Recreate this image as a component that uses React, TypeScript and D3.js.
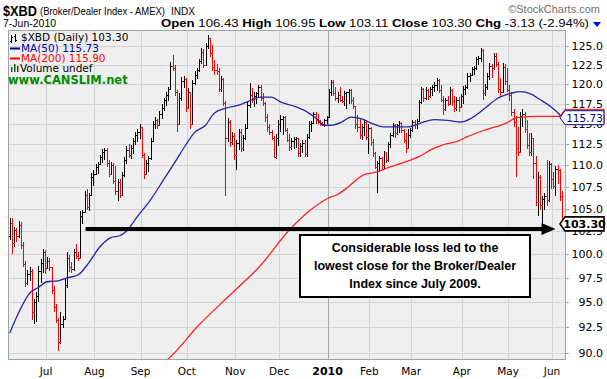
import React from "react";
import * as d3 from "d3";

// ---- Daily OHLC bars, $XBD, 8-Jun-2009 .. 7-Jun-2010 (252 trading days) ----
const opens = [
102.0,103.4,101.2,102.6,102.0,103.2,101.0,99.0,97.0,97.9,98.2,94.0,95.0,95.6,98.2,99.1,100.2,
98.5,99.3,98.6,96.2,94.5,93.2,91.0,92.8,93.3,96.8,99.6,98.6,98.4,100.2,99.8,99.6,104.2,104.6,106.6,105.2,106.5,108.6,
109.0,109.8,110.1,111.0,111.6,111.8,110.2,109.0,110.0,108.2,107.0,108.0,106.6,108.8,110.6,111.8,111.2,112.0,112.9,113.6,114.0,
114.6,111.2,109.0,110.2,110.8,112.9,115.0,115.5,114.8,116.2,117.0,117.9,118.6,119.3,122.3,122.0,119.0,115.0,118.2,120.4,120.6,
117.0,119.0,115.0,120.1,121.2,121.8,123.0,124.2,122.5,125.0,126.0,124.0,122.2,121.8,121.6,119.4,120.6,117.6,113.2,115.2,112.8,113.5,
111.2,112.6,114.0,112.0,113.2,114.5,117.3,118.6,118.0,118.5,118.8,119.6,118.2,117.6,115.8,114.6,114.0,113.3,111.0,113.2,
115.0,115.6,115.8,114.2,113.0,112.2,112.9,113.1,113.2,111.4,112.3,112.7,111.3,113.4,115.0,115.1,116.2,115.4,115.2,114.9,114.8,115.4,
115.8,119.0,120.2,118.8,118.2,118.6,118.0,117.8,118.8,118.9,119.2,118.0,117.2,115.0,114.6,113.6,114.6,115.2,113.4,
114.5,112.8,111.4,109.8,110.2,110.8,110.0,111.4,110.6,112.5,113.6,114.8,113.8,114.8,115.1,114.2,113.0,112.0,113.6,
114.2,115.2,115.0,115.3,117.7,119.3,118.2,119.2,118.5,119.3,119.6,119.8,120.5,119.2,118.0,116.8,117.9,117.5,119.2,117.8,116.9,118.0,117.1,
118.5,119.4,119.6,121.0,121.2,121.9,122.1,123.2,123.4,124.4,118.8,119.6,121.0,122.3,122.0,123.6,122.6,119.4,119.0,122.2,120.4,
119.2,118.6,116.4,115.2,112.0,111.6,116.0,116.2,114.4,112.4,111.6,113.2,110.2,105.8,108.6,105.4,106.1,106.4,106.0,110.1,
108.4,107.6,109.6,109.4,106.43
];
const highs = [
103.9,103.9,103.0,102.8,103.6,103.5,101.3,99.3,98.3,98.6,98.4,95.3,96.0,98.8,99.5,100.6,100.5,
99.7,99.6,98.6,96.7,94.8,93.4,94.0,93.6,97.4,100.2,99.9,99.2,100.6,101.1,100.2,104.7,104.9,107.0,107.2,106.8,109.1,109.4,
110.1,110.4,111.2,111.9,112.0,112.0,110.6,110.4,110.2,109.9,108.4,108.4,109.2,111.0,112.3,112.5,112.4,113.2,114.0,114.3,114.9,
114.6,111.5,110.6,111.1,113.3,115.3,115.8,115.6,116.6,117.4,118.2,119.0,119.6,122.8,123.8,122.5,119.2,118.8,120.9,121.0,120.8,
119.5,119.0,120.5,121.6,122.0,123.2,124.7,124.5,125.4,126.4,126.1,125.1,123.1,122.6,122.0,121.0,120.8,117.8,115.7,115.4,114.0,113.8,
113.0,114.3,114.3,113.6,114.9,117.7,120.1,119.5,118.9,119.0,119.9,119.8,118.8,117.7,116.2,115.0,114.2,113.5,113.7,115.5,
116.1,116.0,116.0,114.5,113.7,113.2,113.4,113.4,113.3,112.6,113.0,113.0,113.7,115.3,115.3,116.5,116.4,116.2,115.5,115.2,115.6,116.0,
119.3,120.5,120.5,119.6,119.0,119.6,118.5,119.1,119.0,119.4,119.3,118.3,117.2,116.1,115.6,115.0,115.5,115.4,114.9,
114.6,113.1,111.6,110.5,111.1,111.0,111.7,111.6,112.8,113.9,115.1,114.9,115.0,115.3,115.2,114.3,113.9,114.3,114.5,
115.5,115.5,115.6,118.0,119.6,119.5,119.6,119.4,119.6,119.9,120.2,120.8,120.6,119.9,118.5,118.2,118.5,119.6,119.4,118.5,118.3,118.3,118.7,
119.7,119.8,121.4,121.4,122.2,122.3,123.5,123.6,124.7,124.5,120.0,121.4,122.7,122.6,124.0,124.0,122.8,120.8,122.7,122.6,122.0,
119.8,118.9,116.8,116.0,114.6,116.5,116.8,116.4,115.5,113.9,113.9,113.3,111.1,109.2,108.8,106.4,106.8,110.6,110.5,110.3,
109.2,109.9,110.0,109.6,106.95
];
const lows = [
101.5,100.0,100.8,101.3,101.8,100.6,98.6,96.6,96.8,97.2,93.2,92.8,93.0,95.0,97.0,98.0,97.9,
98.4,98.2,95.8,94.0,92.9,90.2,90.8,92.4,93.2,96.5,98.1,98.0,98.2,99.5,99.3,99.5,103.3,104.5,104.8,104.7,106.4,107.6,
108.9,109.0,110.0,110.2,110.6,109.8,108.6,108.8,107.8,106.5,105.9,106.2,106.4,108.6,110.1,110.8,110.7,111.3,112.4,112.8,113.1,
110.8,108.4,108.8,109.2,110.6,112.8,114.3,114.3,114.7,115.6,116.6,117.2,117.8,119.2,121.6,118.5,114.0,114.8,117.8,119.5,116.4,
116.8,114.3,114.9,119.8,120.6,121.5,122.6,122.0,122.4,124.6,123.5,121.7,121.2,121.2,119.0,119.0,117.2,106.4,112.8,112.2,112.4,110.6,
109.4,111.8,111.6,111.7,113.0,114.4,117.0,117.6,117.1,117.5,118.3,117.8,117.2,115.2,114.0,113.6,113.0,110.8,110.7,112.3,
114.0,113.6,114.0,112.8,111.7,111.8,111.9,112.0,111.0,111.0,111.5,111.0,111.0,113.1,114.0,114.9,115.0,114.9,114.7,114.7,114.6,115.0,
115.8,118.4,118.4,117.8,117.6,117.7,117.6,117.2,116.8,117.4,117.5,116.8,114.3,114.0,113.1,113.0,113.5,113.0,111.3,
112.3,111.0,109.6,106.8,109.2,109.4,109.6,110.2,110.4,112.0,113.4,113.3,113.6,113.9,113.9,112.7,111.5,111.9,113.3,
114.0,114.3,114.4,115.2,117.5,117.7,117.9,118.0,118.2,118.4,119.0,119.1,118.8,117.7,116.1,116.6,117.2,117.4,117.2,116.4,116.6,116.5,117.0,
117.4,118.6,119.3,120.2,121.0,121.2,121.8,122.4,122.9,118.0,118.5,119.2,120.5,120.8,121.8,122.2,118.8,118.5,118.9,119.9,118.9,
117.8,115.9,114.6,108.6,111.1,111.5,114.6,113.9,111.9,111.1,111.1,108.4,105.3,104.2,104.8,103.1,104.8,105.3,105.8,107.2,
107.2,106.4,107.8,105.9,103.11
];
const closes = [
103.4,101.2,102.6,102.0,103.2,101.0,99.0,97.0,97.9,98.2,94.0,95.0,95.6,98.2,99.1,100.2,98.5,
99.3,98.6,96.2,94.5,93.2,91.0,92.8,93.3,96.8,99.6,98.6,98.4,100.2,99.8,99.6,104.2,104.6,106.6,105.2,106.5,108.6,109.0,
109.8,110.1,111.0,111.6,111.8,110.2,109.0,110.0,108.2,107.0,108.0,106.6,108.8,110.6,111.8,111.2,112.0,112.9,113.6,114.0,114.6,
111.2,109.0,110.2,110.8,112.9,115.0,115.5,114.8,116.2,117.0,117.9,118.6,119.3,122.3,122.0,119.0,115.0,118.2,120.4,120.6,117.0,
119.0,115.0,120.1,121.2,121.8,123.0,124.2,122.5,125.0,126.0,124.0,122.2,121.8,121.6,119.4,120.6,117.6,113.2,115.2,112.8,113.5,111.2,
112.6,114.0,112.0,113.2,114.5,117.3,118.6,118.0,118.5,118.8,119.6,118.2,117.6,115.8,114.6,114.0,113.3,111.0,113.2,115.0,
115.6,115.8,114.2,113.0,112.2,112.9,113.1,113.2,111.4,112.3,112.7,111.3,113.4,115.0,115.1,116.2,115.4,115.2,114.9,114.8,115.4,115.8,
119.0,120.2,118.8,118.2,118.6,118.0,117.8,118.8,118.9,119.2,118.0,117.2,115.0,114.6,113.6,114.6,115.2,113.4,114.5,
112.8,111.4,109.8,110.2,110.8,110.0,111.4,110.6,112.5,113.6,114.8,113.8,114.8,115.1,114.2,113.0,112.0,113.6,114.2,
115.2,115.0,115.3,117.7,119.3,118.2,119.2,118.5,119.3,119.6,119.8,120.5,119.2,118.0,116.8,117.9,117.5,119.2,117.8,116.9,118.0,117.1,118.5,
119.4,119.6,121.0,121.2,121.9,122.1,123.2,123.4,124.4,118.8,119.6,121.0,122.3,122.0,123.6,122.6,119.4,119.0,122.2,120.4,119.2,
118.6,116.4,115.2,112.0,111.6,116.0,116.2,114.4,112.4,111.6,113.2,110.2,105.8,108.6,105.4,106.1,106.4,106.0,110.1,108.4,
107.6,109.6,109.4,106.43,103.30
];

// month starts (bar index) and labels
const monthLabels = ["Jul", "Aug", "Sep", "Oct", "Nov", "Dec", "2010", "Feb", "Mar", "Apr", "May", "Jun"];
const monthStartIdx = [17, 39, 60, 81, 103, 123, 145, 164, 183, 206, 227, 247];

const yTicks = [90, 92.5, 95, 97.5, 100, 102.5, 105, 107.5, 110, 112.5, 115, 117.5, 120, 122.5, 125];

// moving averages (bar index, value)
const ma50Idx = [0, 4, 9, 13, 17, 22, 26, 31, 36, 41, 46, 50, 53, 58, 64, 70, 75, 80, 84, 89, 93, 98, 104, 107, 114, 119, 123, 130, 136, 140, 143, 146, 151, 155, 160, 164, 170, 175, 181, 187, 193, 199, 205, 210, 216, 222, 228, 232, 237, 241, 246, 250, 251];
const ma50Val = [91.9, 93.9, 95.9, 96.5, 97.1, 97.2, 97.5, 97.8, 99.1, 100.8, 101.8, 102.0, 102.5, 104.1, 106.0, 108.3, 110.3, 112.4, 113.9, 114.8, 116.3, 116.9, 117.3, 117.6, 118.3, 118.3, 117.7, 117.1, 116.3, 115.5, 114.8, 114.8, 115.2, 115.8, 115.6, 115.1, 114.6, 114.6, 114.6, 115.1, 115.5, 115.4, 115.2, 115.7, 116.9, 118.2, 118.8, 119.0, 118.7, 118.0, 117.1, 116.1, 115.73];
const ma200Idx = [66, 72, 86, 100, 114, 127, 137, 145, 149, 154, 161, 167, 173, 180, 186, 192, 198, 204, 208, 217, 226, 230, 233, 239, 245, 251];
const ma200Val = [88.5, 89.4, 92.7, 95.7, 98.8, 102.6, 104.9, 106.2, 106.6, 107.5, 108.9, 109.2, 109.8, 110.4, 111.0, 111.9, 112.5, 112.9, 113.4, 114.3, 115.1, 115.7, 115.8, 115.9, 115.9, 115.9];

const lastClose = 103.30;
const ma50Last = 115.73;
const ma200Last = 115.90;

const FONT = "'DejaVu Sans', sans-serif";
const ARIAL = "'Liberation Sans', Arial, sans-serif";

export default function App() {
  const W = 607, H = 379;
  const P = { left: 8, right: 566, top: 30, bottom: 360 };
  const N = closes.length;
  const bw = 2.2;
  const x = d3.scaleLinear().domain([0, N]).range([8.6, 8.6 + N * bw]);
  const y = d3.scaleLog().domain([90, 125]).range([352.7, 45.7]);

  let redPath = "";
  let blackPath = "";
  for (let i = 0; i < N; i++) {
    const cx = Math.round(x(i + 0.5)) + 0.5;
    const yh = y(highs[i]), yl = y(lows[i]), yo = Math.round(y(opens[i])) + 0.5, yc = Math.round(y(closes[i])) + 0.5;
    const seg = `M${cx},${yh}V${yl}M${cx - 2},${yo}H${cx}M${cx},${yc}H${cx + 2}`;
    const red = i > 0 && closes[i] < closes[i - 1];
    if (red) redPath += seg; else blackPath += seg;
  }

  const line = d3.line<[number, number]>().x(d => x(d[0] + 0.5)).y(d => y(d[1])).curve(d3.curveMonotoneX);
  const ma50Path = line(ma50Idx.map((d, i) => [d, ma50Val[i]]) as [number, number][]) || "";
  const ma200Path = line(ma200Idx.map((d, i) => [d, ma200Val[i]]) as [number, number][]) || "";

  const tag = (v: number, stroke: string, color: string, bold: boolean, label: string, sw: number) => {
    const cy = y(v);
    const h = 14;
    const x0 = 565, x1 = 604, tip = 560;
    const d = `M${tip},${cy}L${x0},${cy - h / 2}H${x1}V${cy + h / 2}H${x0}Z`;
    return (
      <g>
        <path d={d} fill="#fff" stroke={stroke} strokeWidth={sw} />
        <text x={584.5} y={cy + 4} textAnchor="middle" fontFamily={FONT} fontSize={bold ? 11 : 10.5} fontWeight={bold ? "bold" : "normal"} fill={color}>{label}</text>
      </g>
    );
  };

  const arrowY = y(102.75);
  const arrowX0 = x(35);
  const arrowTip = x(249.5) - 2;

  return (
    <svg width={W} height={H} style={{ position: "absolute", left: 0, top: 0, display: "block", background: "#fff" }}>
      <defs>
        <clipPath id="plotClip">
          <rect x={P.left} y={P.top} width={P.right - P.left} height={P.bottom - P.top} />
        </clipPath>
      </defs>

      {/* header */}
      <text x={3} y={16} fontFamily={ARIAL} fontSize={15} fontWeight="bold" fill="#000" textLength={34} lengthAdjust="spacingAndGlyphs">$XBD</text>
      <text x={40} y={15} fontFamily={ARIAL} fontSize={10} fill="#000" textLength={125} lengthAdjust="spacingAndGlyphs">(Broker/Dealer Index - AMEX)</text>
      <text x={171} y={15} fontFamily={ARIAL} fontSize={10} fill="#000">INDX</text>
      <text x={600} y={13} textAnchor="end" fontFamily={ARIAL} fontSize={11} fill="#707070">©StockCharts.com</text>
      <text x={3} y={27} fontFamily={ARIAL} fontSize={10.5} fill="#000">7-Jun-2010</text>
      <text x={161} y={27} fontFamily={ARIAL} fontSize={11} fill="#000" textLength={428} lengthAdjust="spacingAndGlyphs">
        <tspan fontWeight="bold">Open</tspan> 106.43 <tspan fontWeight="bold">High</tspan> 106.95 <tspan fontWeight="bold">Low</tspan> 103.11 <tspan fontWeight="bold">Close</tspan> 103.30 <tspan fontWeight="bold">Chg</tspan> -3.13 (-2.94%)
      </text>
      <path d="M593,22H601L597,27Z" fill="#0000ee" />

      {/* plot background */}
      <rect x={P.left} y={P.top} width={P.right - P.left} height={P.bottom - P.top} fill="#efefef" />

      {/* grid */}
      <g shapeRendering="crispEdges">
        {yTicks.map(t => (
          <line key={"h" + t} x1={P.left} x2={P.right} y1={Math.round(y(t)) + 0.5} y2={Math.round(y(t)) + 0.5} stroke="#d4d4d4" />
        ))}
        {monthStartIdx.map((m, i) => (
          <line key={"v" + m} x1={Math.round(x(m)) + 0.5} x2={Math.round(x(m)) + 0.5} y1={P.top} y2={P.bottom} stroke={monthLabels[i] === "2010" ? "#a8a8a8" : "#d4d4d4"} />
        ))}
      </g>

      {/* price bars */}
      <g clipPath="url(#plotClip)">
        <path d={blackPath} stroke="#000" strokeWidth={1} fill="none" shapeRendering="crispEdges" />
        <path d={redPath} stroke="#ff0000" strokeWidth={1} fill="none" shapeRendering="crispEdges" />
        <path d={ma200Path} stroke="#ff2020" strokeWidth={1.3} fill="none" />
        <path d={ma50Path} stroke="#2626a6" strokeWidth={1.3} fill="none" />
      </g>

      {/* plot border */}
      <rect x={P.left + 0.5} y={P.top + 0.5} width={P.right - P.left - 1} height={P.bottom - P.top - 1} fill="none" stroke="#9aa6a6" shapeRendering="crispEdges" />

      {/* legend */}
      <g>
        <path d="M11.5,35V43M10,41H11.5M11.5,37H13M15.5,34V42M14,36H15.5M15.5,40H17" stroke="#000" strokeWidth={1} shapeRendering="crispEdges" />
        <text x={21} y={41} fontFamily={FONT} fontSize={10.5} fill="#000">$XBD (Daily) 103.30</text>
        <line x1={10} x2={20} y1={48.5} y2={48.5} stroke="#00008b" strokeWidth={2} />
        <text x={21} y={52} fontFamily={FONT} fontSize={10.5} fill="#0000b0">MA(50) 115.73</text>
        <line x1={10} x2={20} y1={58.5} y2={58.5} stroke="#ff0000" strokeWidth={2} />
        <text x={21} y={62} fontFamily={FONT} fontSize={10.5} fill="#ff0000">MA(200) 115.90</text>
        <path d="M11,72V67H12.5V72ZM14,72V64H15.5V72ZM17,72V66H18.5V72Z" fill="#1a5a1a" />
        <text x={20} y={72} fontFamily={FONT} fontSize={10.5} fill="#000">Volume undef</text>
        <text x={8} y={84} fontFamily={FONT} fontSize={11.5} fontWeight="bold" fill="#008a00">www.CANSLIM.net</text>
      </g>

      {/* right axis */}
      {yTicks.map(t => (
        <g key={"yl" + t}>
          <line x1={P.right} x2={P.right + 3} y1={Math.round(y(t)) + 0.5} y2={Math.round(y(t)) + 0.5} stroke="#9aa6a6" shapeRendering="crispEdges" />
          <text x={603} y={y(t) + 4} textAnchor="end" fontFamily={FONT} fontSize={11} fill="#000">{t.toFixed(1)}</text>
        </g>
      ))}

      {/* bottom axis */}
      {monthStartIdx.map((m, i) => (
        <text key={"ml" + m} x={x(m)} y={375} textAnchor="middle" fontFamily={FONT} fontSize={monthLabels[i] === "2010" ? 11 : 10.5} fontWeight={monthLabels[i] === "2010" ? "bold" : "normal"} fill="#000">{monthLabels[i]}</text>
      ))}

      {/* value tags (drawn over the axis labels, as in the original) */}
      {tag(ma200Last, "#ff0000", "#ff0000", false, "115.90", 1)}
      {tag(ma50Last, "#00008b", "#00008b", false, "115.73", 1)}
      {tag(lastClose, "#000", "#000", true, "103.30", 1.6)}

      {/* annotation */}
      <line x1={arrowX0} x2={arrowTip - 12} y1={arrowY} y2={arrowY} stroke="#000" strokeWidth={4} />
      <path d={`M${arrowTip},${arrowY}L${arrowTip - 14},${arrowY - 6}V${arrowY + 6}Z`} fill="#000" />
      <rect x={300} y={235} width={230} height={62} fill="#fff" stroke="#000" strokeWidth={2} />
      <g fontFamily={ARIAL} fontSize={12.5} fontWeight="bold" fill="#000" textAnchor="middle">
        <text x={415} y={252}>Considerable loss led to the</text>
        <text x={415} y={270}>lowest close for the Broker/Dealer</text>
        <text x={415} y={288}>Index since July 2009.</text>
      </g>
    </svg>
  );
}
